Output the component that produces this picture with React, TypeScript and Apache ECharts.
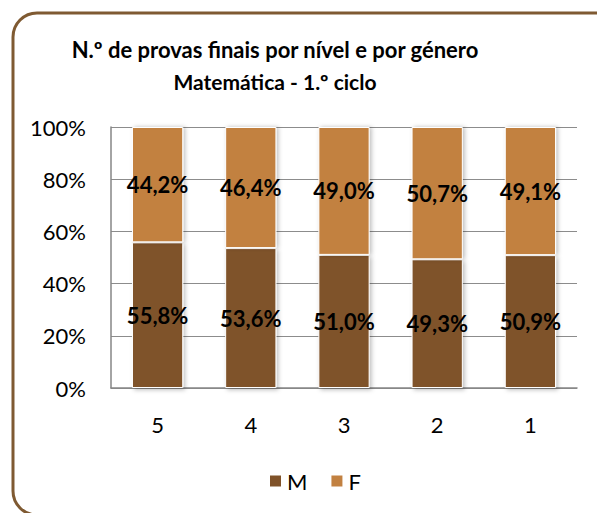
import React, { useEffect, useRef } from "react";
import * as echarts from "echarts";

const categories = ["5", "4", "3", "2", "1"];
const maleValues = [55.8, 53.6, 51.0, 49.3, 50.9];
const femaleValues = [44.2, 46.4, 49.0, 50.7, 49.1];
const yTicks = [0, 20, 40, 60, 80, 100];
const titleLines = ["N.º de provas finais por nível e por género", "Matemática - 1.º ciclo"];

const FONT = "Lato, 'Open Sans', sans-serif";

export default function App() {
  const ref = useRef<HTMLDivElement>(null);
  useEffect(() => {
    document.body.style.margin = "0";
    const chart = echarts.init(ref.current!, undefined, { renderer: "svg" });
    const fmt = (p: any) => Number(p.value).toFixed(1).replace(".", ",") + "%";
    const barCommon = {
      type: "bar",
      stack: "total",
      barWidth: "55%",
      label: {
        show: true,
        position: "inside",
        formatter: fmt,
        color: "#000",
        fontWeight: "bold",
        fontSize: 22,
        fontFamily: FONT,
      },
    };
    const titleStyle = {
      fontWeight: "bold",
      fontFamily: FONT,
      fill: "#000",
      align: "center",
      verticalAlign: "middle",
    };
    chart.setOption({
      animation: false,
      textStyle: { fontFamily: FONT },
      graphic: [
        {
          type: "rect",
          shape: { x: 13, y: 13, width: 620, height: 502, r: 24 },
          style: { fill: "none", stroke: "#7f5a32", lineWidth: 3 },
          silent: true,
        },
        { type: "text", x: 275, y: 49, style: { ...titleStyle, fontSize: 22, text: titleLines[0] } },
        { type: "text", x: 275, y: 81, style: { ...titleStyle, fontSize: 21, text: titleLines[1] } },
      ],
      legend: {
        data: ["M", "F"],
        top: 465,
        left: 263,
        itemWidth: 13,
        itemHeight: 13,
        itemGap: 22,
        icon: "rect",
        textStyle: { fontSize: 22, fontFamily: FONT, color: "#000" },
      },
      grid: { left: 111, right: 20, top: 127, bottom: 125 },
      xAxis: {
        type: "category",
        data: categories,
        axisTick: { show: false },
        axisLine: { show: true, lineStyle: { color: "#868686", width: 1.5 } },
        axisLabel: { fontSize: 22, color: "#000", margin: 25, fontFamily: FONT },
      },
      yAxis: {
        type: "value",
        min: 0,
        max: 100,
        interval: 20,
        axisLine: { show: true, lineStyle: { color: "#868686", width: 1.5 } },
        axisTick: { show: false },
        splitLine: { show: true, lineStyle: { color: "#8c8c8c", width: 1 } },
        axisLabel: {
          fontSize: 22,
          color: "#000",
          margin: 25,
          fontFamily: FONT,
          formatter: (v: number) => (yTicks.includes(v) ? v + "%" : ""),
        },
      },
      series: [
        {
          ...barCommon,
          name: "M",
          data: maleValues,
          itemStyle: {
            color: "#7f5229",
            borderColor: "#fff",
            borderWidth: 1,
            shadowBlur: 4,
            shadowColor: "rgba(0,0,0,0.25)",
            shadowOffsetX: 2,
            shadowOffsetY: 2,
          },
        },
        {
          ...barCommon,
          name: "F",
          data: femaleValues,
          itemStyle: {
            color: "#c28141",
            borderColor: "#fff",
            borderWidth: 1,
            shadowBlur: 4,
            shadowColor: "rgba(0,0,0,0.25)",
            shadowOffsetX: 2,
            shadowOffsetY: 0,
          },
        },
      ],
    });
    return () => chart.dispose();
  }, []);
  return (
    <div
      ref={ref}
      style={{ position: "absolute", left: 0, top: 0, width: 597, height: 513, background: "#fff" }}
    />
  );
}
